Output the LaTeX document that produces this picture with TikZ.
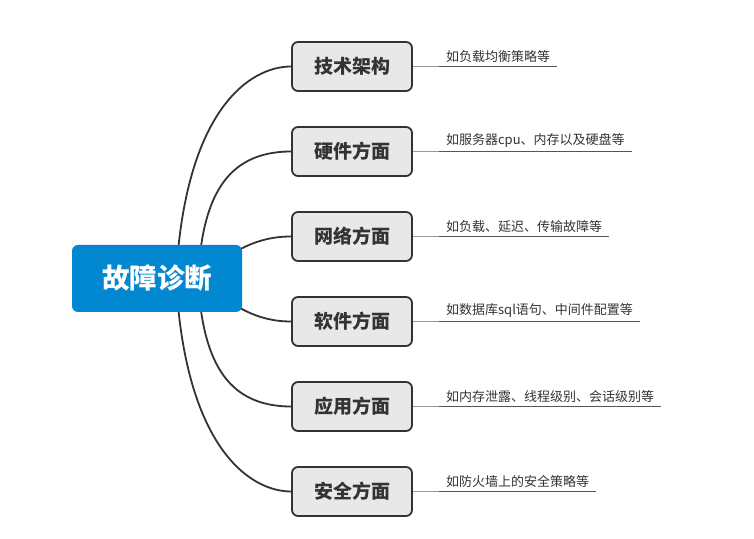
\documentclass[tikz,border=0pt]{standalone}
\usepackage{fontspec}
\setmainfont{Noto Sans CJK SC}
\usetikzlibrary{positioning,backgrounds}
\definecolor{rootblue}{HTML}{0288D1}
\definecolor{boxgray}{HTML}{E8E8E8}
\definecolor{ink}{HTML}{333333}
\definecolor{stubgray}{HTML}{999999}
\definecolor{linegray}{HTML}{555555}

\begin{document}
\begin{tikzpicture}[x=1pt, y=1pt,
    rootbox/.style={rectangle, rounded corners=6pt, fill=rootblue, text=white, font=\fontsize{27.5}{30}\selectfont\bfseries, minimum width=170pt, minimum height=67pt},
    topic/.style={rectangle, rounded corners=6pt, draw=ink, line width=1.8pt, fill=boxgray, text=ink, font=\fontsize{19}{22}\selectfont\bfseries, minimum width=120pt, minimum height=49pt},
    note/.style={inner xsep=7pt, inner ysep=4pt, text=ink, font=\fontsize{13}{15}\selectfont},
    branch/.style={draw=ink, line width=1.8pt},
    stub/.style={draw=stubgray, line width=1.5pt},
    uline/.style={draw=linegray, line width=1.7pt}]
    \useasboundingbox (0,0) rectangle (754,538);
    \node[rootbox] (root) at (157,259.5) {故障诊断};

    \node[topic] (c1) at (352,471.5) {技术架构};
    \node[topic] (c2) at (352,386.5) {硬件方面};
    \node[topic] (c3) at (352,301.5) {网络方面};
    \node[topic] (c4) at (352,216.5) {软件方面};
    \node[topic] (c5) at (352,131.5) {应用方面};
    \node[topic] (c6) at (352,46.5) {安全方面};

    \node[note, right=26pt of c1.east, anchor=south west] (n1) {如负载均衡策略等};
    \node[note, right=26pt of c2.east, anchor=south west] (n2) {如服务器cpu、内存以及硬盘等};
    \node[note, right=26pt of c3.east, anchor=south west] (n3) {如负载、延迟、传输故障等};
    \node[note, right=26pt of c4.east, anchor=south west] (n4) {如数据库sql语句、中间件配置等};
    \node[note, right=26pt of c5.east, anchor=south west] (n5) {如内存泄露、线程级别、会话级别等};
    \node[note, right=26pt of c6.east, anchor=south west] (n6) {如防火墙上的安全策略等};

    \begin{pgfonlayer}{background}
        \draw[branch] ([xshift=19pt]root.center) to[out=87, in=180, out distance=168pt, in distance=42pt] (c1.west);
        \draw[branch] ([xshift=41pt]root.center) to[out=87, in=180, out distance=78pt, in distance=67pt] (c2.west);
        \draw[branch] ([xshift=53pt, yshift=10pt]root.center) to[out=35, in=180, out distance=30pt, in distance=35pt] (c3.west);
        \draw[branch] ([xshift=53pt, yshift=-10pt]root.center) to[out=-35, in=180, out distance=30pt, in distance=35pt] (c4.west);
        \draw[branch] ([xshift=41pt]root.center) to[out=-87, in=180, out distance=78pt, in distance=67pt] (c5.west);
        \draw[branch] ([xshift=19pt]root.center) to[out=-87, in=180, out distance=168pt, in distance=42pt] (c6.west);
    \end{pgfonlayer}

    \draw[stub] (c1.east) -- (n1.south west); \draw[uline] (n1.south west) -- (n1.south east);
    \draw[stub] (c2.east) -- (n2.south west); \draw[uline] (n2.south west) -- (n2.south east);
    \draw[stub] (c3.east) -- (n3.south west); \draw[uline] (n3.south west) -- (n3.south east);
    \draw[stub] (c4.east) -- (n4.south west); \draw[uline] (n4.south west) -- (n4.south east);
    \draw[stub] (c5.east) -- (n5.south west); \draw[uline] (n5.south west) -- (n5.south east);
    \draw[stub] (c6.east) -- (n6.south west); \draw[uline] (n6.south west) -- (n6.south east);
\end{tikzpicture}
\end{document}
